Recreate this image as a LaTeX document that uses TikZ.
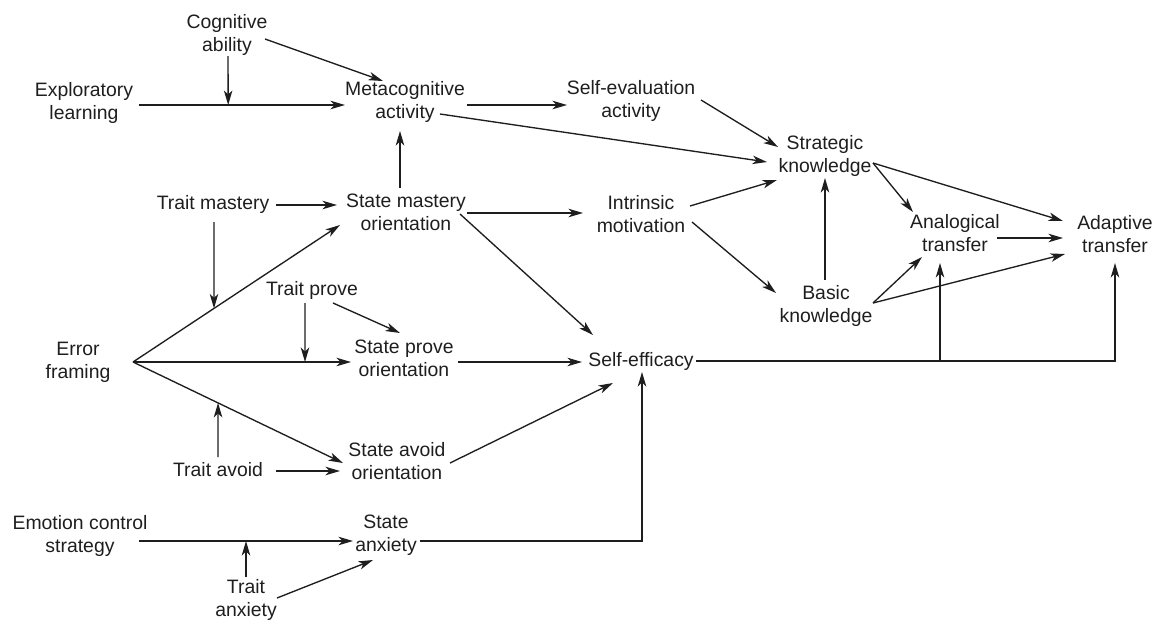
\documentclass[tikz,border=0pt]{standalone}
\usepackage{fontspec}
\setmainfont{Liberation Sans}
\usetikzlibrary{arrows.meta}
\definecolor{ink}{HTML}{1E1E1E}
\begin{document}
\begin{tikzpicture}[x=1pt,y=-1pt,
  lbl/.style={align=center,inner sep=0pt,text=ink,font=\fontsize{19.4}{23}\selectfont},
  link/.style={draw=ink,line width=1.35pt,-{Stealth[length=14.5pt,width=8.5pt,inset=4pt]}},
  plain/.style={draw=ink,line width=1.35pt}]
\useasboundingbox (0,0) rectangle (1163,630);

% concepts
\node[lbl] (cog)     at (227,35)  {Cognitive\\ability};
\node[lbl] (expl)    at (84,103)  {Exploratory\\learning};
\node[lbl] (meta)    at (405,102) {Metacognitive\\activity};
\node[lbl] (selfev)  at (631,101) {Self-evaluation\\activity};
\node[lbl] (strat)   at (825,156) {Strategic\\knowledge};
\node[lbl] (tmast)   at (213,204) {Trait mastery};
\node[lbl] (smast)   at (406,212) {State mastery\\orientation};
\node[lbl] (intr)    at (641,214) {Intrinsic\\motivation};
\node[lbl] (analog)  at (955,233) {Analogical\\transfer};
\node[lbl] (adapt)   at (1115,234) {Adaptive\\transfer};
\node[lbl] (basic)   at (826,306) {Basic\\knowledge};
\node[lbl] (tprove)  at (312,290) {Trait prove};
\node[lbl] (error)   at (78,362)  {Error\\framing};
\node[lbl] (sprove)  at (404,358) {State prove\\orientation};
\node[lbl] (selfeff) at (641,361) {Self-efficacy};
\node[lbl] (tavoid)  at (218,470) {Trait avoid};
\node[lbl] (savoid)  at (397,461) {State avoid\\orientation};
\node[lbl] (emo)     at (80,536)  {Emotion control\\strategy};
\node[lbl] (sanx)    at (386,535) {State\\anxiety};
\node[lbl] (tanx)    at (246,600) {Trait\\anxiety};

% upper block
\draw[link] ([shift={(55,2)}]expl.center) -- coordinate[pos=0.433] (j1) ([shift={(-60,3)}]meta.center);
\draw[link] ([shift={(1,21)}]cog.center) -- (j1);
\draw[link] ([shift={(38,4)}]cog.center) -- ([shift={(-22,-21)}]meta.center);
\draw[link] ([shift={(62,3)}]meta.center) -- ([shift={(-64,4)}]selfev.center);
\draw[link] ([shift={(35,12)}]meta.center) -- ([shift={(-58,6)}]strat.center);
\draw[link] ([shift={(70,-1)}]selfev.center) -- ([shift={(-47,-9)}]strat.center);
\draw[link] ([shift={(-6,-24)}]smast.center) -- ([shift={(-5,29)}]meta.center);
\draw[link] ([shift={(63,1)}]tmast.center) -- ([shift={(-69,-7)}]smast.center);
\draw[link] ([shift={(61,1)}]smast.center) -- ([shift={(-58,-1)}]intr.center);
\draw[link] ([shift={(54,2)}]smast.center) -- ([shift={(-48,-26)}]selfeff.center);
\draw[link] ([shift={(49,-8)}]intr.center) -- ([shift={(-48,24)}]strat.center);
\draw[link] ([shift={(51,8)}]intr.center) -- ([shift={(-50,-13)}]basic.center);
\draw[link] ([shift={(-1,-26)}]basic.center) -- ([shift={(0,22)}]strat.center);
\draw[link] ([shift={(48,7)}]strat.center) -- ([shift={(-42,-21)}]analog.center);
\draw[link] ([shift={(48,7)}]strat.center) -- ([shift={(-52,-13)}]adapt.center);
\draw[link] ([shift={(42,5)}]analog.center) -- ([shift={(-52,4)}]adapt.center);
\draw[link] ([shift={(47,-3)}]basic.center) -- ([shift={(-33,24)}]analog.center);
\draw[link] ([shift={(47,-3)}]basic.center) -- ([shift={(-50,20)}]adapt.center);

% self-efficacy to transfer outcomes
\draw[link] ([shift={(55,0)}]selfeff.center) -| ([shift={(0,29)}]adapt.center);
\coordinate (j2) at (940,361);
\draw[link] (j2) -- ([shift={(-15,30)}]analog.center);

% error framing fan
\draw[link] ([shift={(55,0)}]error.center) -- coordinate[pos=0.3913] (j3) ([shift={(-66,13)}]smast.center);
\draw[link] ([shift={(55,0)}]error.center) -- coordinate[pos=0.789] (j4) ([shift={(-53,4)}]sprove.center);
\draw[link] ([shift={(55,0)}]error.center) -- coordinate[pos=0.405] (j5) ([shift={(-54,2)}]savoid.center);
\draw[link] ([shift={(1,18)}]tmast.center) -- (j3);
\draw[link] ([shift={(-7,13)}]tprove.center) -- (j4);
\draw[link] ([shift={(21,13)}]tprove.center) -- ([shift={(-4,-25)}]sprove.center);
\draw[link] ([shift={(0,-13)}]tavoid.center) -- (j5);
\draw[link] ([shift={(58,1)}]tavoid.center) -- ([shift={(-57,10)}]savoid.center);
\draw[link] ([shift={(54,4)}]sprove.center) -- ([shift={(-59,1)}]selfeff.center);
\draw[link] ([shift={(53,2)}]savoid.center) -- ([shift={(-28,22)}]selfeff.center);

% anxiety block
\draw[link] ([shift={(59,5)}]emo.center) -- coordinate[pos=0.5] (j6) ([shift={(-33,6)}]sanx.center);
\draw[link] ([shift={(0,-23)}]tanx.center) -- (j6);
\draw[link] ([shift={(31,-2)}]tanx.center) -- ([shift={(-13,25)}]sanx.center);
\draw[link] ([shift={(34,6)}]sanx.center) -| ([shift={(1,11)}]selfeff.center);
\end{tikzpicture}
\end{document}
